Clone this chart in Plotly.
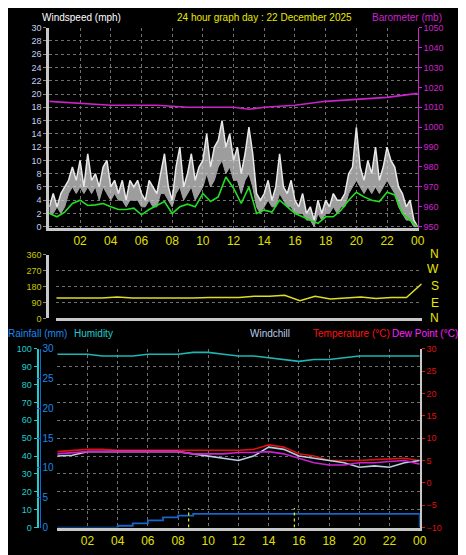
import plotly.graph_objects as go

W, H = 466, 555
FONT = "Liberation Sans"

# --- data ---
gust_hours = [i * 0.25 for i in range(97)]
gust = [3, 5, 3, 5, 6, 7, 9, 7, 10, 6, 11, 7, 8, 6, 9, 10, 6, 7, 5, 7,
        4, 7, 6, 7, 5, 4, 7, 6, 5, 8, 11, 6, 4, 9, 12, 6, 8, 11, 7, 9,
        10, 14, 9, 12, 13, 16, 12, 14, 10, 12, 8, 11, 15, 11, 5, 4,
        5, 7, 4, 6, 11, 6, 5, 7, 4, 3, 5, 2, 3, 1, 4, 2, 4, 3, 5, 4,
        4, 5, 8, 9, 15, 9, 7, 10, 8, 12, 7, 9, 12, 10, 9, 6, 5, 3, 4, 1, 0]
lull = [2, 2, 3, 2, 3, 5, 6, 5, 6, 5, 6, 5, 6, 4, 6, 5, 4, 5, 4, 4,
        3, 4, 4, 4, 3, 3, 4, 3, 3, 5, 5, 4, 3, 5, 6, 4, 5, 6, 4, 5,
        6, 8, 6, 7, 9, 10, 8, 9, 7, 7, 5, 7, 8, 6, 3, 2,
        3, 4, 3, 3, 5, 4, 3, 3, 2, 2, 2, 1, 1, 0, 2, 1, 2, 2, 3, 2,
        3, 3, 5, 6, 7, 6, 5, 6, 5, 6, 5, 6, 7, 6, 5, 3, 2, 1, 1, 0, 0]

avg_hours = [i * 0.5 for i in range(49)]
avg_wind = [2, 1.5, 2.2, 3.5, 4, 3.2, 3.3, 3.5, 3, 2.6, 2.6, 2.8, 1.8, 2.6, 3.2, 3.8,
            2, 3, 3.4, 3, 5, 3.8, 4.5, 7.5, 5.8, 3.5, 6, 2, 2.5, 2.2, 4, 3,
            2, 1.5, 1, 0.5, 1.5, 1.5, 2.5, 4, 5.2, 4.5, 4, 3.8, 5.2, 4.8, 2, 1, 0]

hours = list(range(25))
baro = [1013, 1012.5, 1012, 1011.5, 1011, 1011, 1011, 1011, 1010.5, 1010, 1010, 1010,
        1010, 1009, 1010, 1010.5, 1011, 1012, 1013, 1013.5, 1014, 1014.5, 1015, 1016, 1017]
wind_dir = [115, 115, 118, 115, 120, 115, 115, 115, 112, 115, 118, 120, 118, 125, 125,
            130, 100, 125, 110, 115, 120, 112, 118, 118, 195]
humidity = [97, 97, 97, 96, 96, 96, 97, 97, 97, 98, 98, 97, 96, 96, 95, 94,
            93, 94, 94, 95, 96, 96, 96, 96, 96]
temperature = [7, 7.2, 7.5, 7.5, 7.3, 7.3, 7.3, 7.3, 7.3, 7.3, 7.3, 7.3, 7.3, 7.5,
               8.5, 8, 6.5, 6, 5, 5, 5, 5.2, 5.3, 5.5, 5]
dewpoint = [6.5, 6.8, 7, 7, 7, 7, 7, 7, 7, 6.5, 6.5, 6.5, 6.8, 6.8, 7, 6.5,
            5.5, 4.5, 4, 4, 4.5, 4.5, 4.8, 5, 4.2]
windchill = [6, 6.2, 7, 7, 7, 7, 7, 7, 7, 6.5, 6, 5.5, 5, 6, 8, 7.5, 6, 5.5,
             5, 4.5, 3.5, 3.8, 3.5, 4.5, 5]
rain = [0, 0, 0, 0, 0.3, 0.7, 1.2, 1.7, 2.0, 2.3, 2.3, 2.3, 2.3, 2.3, 2.3, 2.3,
        2.3, 2.3, 2.3, 2.3, 2.3, 2.3, 2.3, 2.3, 0]
rain_marks = [8.7, 15.7]

x_vals = list(range(2, 25, 2))
x_text = ["%02d" % (h % 24) for h in x_vals]


def px(x):
    return x / W


def py(y):
    return 1 - y / H


fig = go.Figure()

# panel 1: wind + barometer
fig.add_trace(go.Scatter(x=gust_hours, y=lull, mode="lines", line=dict(color="#a0a0a0", width=1),
                         xaxis="x", yaxis="y"))
fig.add_trace(go.Scatter(x=gust_hours, y=gust, mode="lines", line=dict(color="#e8e8e8", width=1.5),
                         fill="tonexty", fillcolor="rgba(210,210,210,0.75)", xaxis="x", yaxis="y"))
fig.add_trace(go.Scatter(x=avg_hours, y=avg_wind, mode="lines", line=dict(color="#22dd22", width=1.6),
                         xaxis="x", yaxis="y"))
fig.add_trace(go.Scatter(x=hours, y=baro, mode="lines", line=dict(color="#cc22cc", width=1.6),
                         xaxis="x", yaxis="y2"))
# panel 2: wind direction
fig.add_trace(go.Scatter(x=hours, y=wind_dir, mode="lines", line=dict(color="#dddd22", width=1.5),
                         xaxis="x2", yaxis="y3"))
# panel 3
fig.add_trace(go.Scatter(x=hours, y=humidity, mode="lines", line=dict(color="#1fb5b5", width=1.6),
                         xaxis="x3", yaxis="y4"))
fig.add_trace(go.Scatter(x=hours, y=temperature, mode="lines", line=dict(color="#dd1111", width=1.6),
                         xaxis="x3", yaxis="y6"))
fig.add_trace(go.Scatter(x=hours, y=windchill, mode="lines", line=dict(color="#b8cce8", width=1.6),
                         xaxis="x3", yaxis="y6"))
fig.add_trace(go.Scatter(x=hours, y=dewpoint, mode="lines", line=dict(color="#cc22cc", width=1.6),
                         xaxis="x3", yaxis="y6"))
fig.add_trace(go.Scatter(x=hours, y=rain, mode="lines", line=dict(color="#1466c8", width=1.8, shape="hv"),
                         xaxis="x3", yaxis="y5"))
for m in rain_marks:
    fig.add_trace(go.Scatter(x=[m, m], y=[0, 3.3], mode="lines",
                             line=dict(color="#eeee22", width=1.2, dash="dot"),
                             xaxis="x3", yaxis="y5"))

grid = dict(showgrid=True, gridcolor="#707070", griddash="dot", gridwidth=1, zeroline=False)
xcommon = dict(range=[0, 24], tickvals=x_vals, ticktext=x_text, showline=True, linecolor="#c8c8c8",
               linewidth=3, ticks="", tickfont=dict(color="#e0e000", size=12, family=FONT), **grid)

fig.update_layout(
    width=W, height=H, margin=dict(l=0, r=0, t=0, b=0),
    paper_bgcolor="black", plot_bgcolor="black", showlegend=False,
    font=dict(family=FONT, size=10),
    xaxis=dict(domain=[px(42), px(416)], anchor="y", **xcommon),
    yaxis=dict(domain=[py(219), py(15)], range=[-0.2, 30], dtick=2, showline=True, linecolor="#c8c8c8",
               linewidth=3, ticks="outside", ticklen=3, tickcolor="#888",
               tickfont=dict(color="#c0d0f0", size=9), **grid),
    yaxis2=dict(overlaying="y", side="right", range=[949.3, 1050], dtick=10, showgrid=False,
                zeroline=False, ticks="outside", ticklen=3, tickcolor="#cc22cc",
                tickfont=dict(color="#cc22cc", size=9), showline=True, linecolor="#cc22cc", linewidth=1),
    xaxis2=dict(domain=[px(49), px(420)], anchor="y3", showticklabels=False, range=[0, 24],
                showline=True, linecolor="#c8c8c8", linewidth=3, showgrid=False, zeroline=False),
    yaxis3=dict(domain=[py(311), py(246)], range=[0, 360], tickvals=[0, 90, 180, 270, 360],
                tickfont=dict(color="#c8c800", size=9), ticks="outside", ticklen=3, tickcolor="#888",
                showline=True, linecolor="#c8c8c8", linewidth=3, **grid),
    xaxis3=dict(domain=[px(50), px(418)], anchor="y6", **xcommon),
    yaxis4=dict(domain=[py(524), py(342)], range=[0, 100], dtick=10, anchor="free", position=px(30),
                side="left", showline=True, linecolor="#22cccc", linewidth=2, ticks="outside",
                ticklen=3, tickcolor="#22cccc", tickfont=dict(color="#22cccc", size=9), **grid),
    yaxis5=dict(overlaying="y4", range=[0, 30], dtick=5, anchor="free", position=px(32), side="right",
                showline=True, linecolor="#1466c8", linewidth=1, ticks="inside", ticklen=3,
                tickcolor="#1466c8", tickfont=dict(color="#1e88e8", size=10), showgrid=False,
                zeroline=False),
    yaxis6=dict(overlaying="y4", range=[-10, 30], dtick=5, side="right", anchor="x3",
                showline=True, linecolor="#c8c8c8", linewidth=2, ticks="outside", ticklen=3,
                tickcolor="#dd1111", tickfont=dict(color="#dd1111", size=9), showgrid=False,
                zeroline=False),
)

texts = [
    (35, 5, "Windspeed (mph)", "white"),
    (172, 5, "24 hour graph day : 22 December 2025", "#e8e800"),
    (370, 5, "Barometer (mb)", "#cc22cc"),
    (0, 326, "Rainfall (mm)", "#1e88e8"),
    (67, 326, "Humidity", "#22cccc"),
    (246, 326, "Windchill", "#b8cce8"),
    (310, 326, "Temperature (\u00b0C)", "#ff1111"),
    (390, 326, "Dew Point (\u00b0C)", "#ff22ff"),
]
for x, y, t, c in texts:
    fig.add_annotation(x=px(x), y=py(y), xref="paper", yref="paper", text=t, showarrow=False,
                       xanchor="left", yanchor="middle", xshift=-2,
                       font=dict(color=c, size=10, family=FONT))

for lbl, yy in zip(["N", "W", "S", "E", "N"], [245, 261, 278, 295, 311]):
    fig.add_annotation(x=px(440), y=py(yy), xref="paper", yref="paper", text=lbl, showarrow=False,
                       font=dict(color="#e8e800", size=12, family=FONT))

fig.write_html("out.html")
